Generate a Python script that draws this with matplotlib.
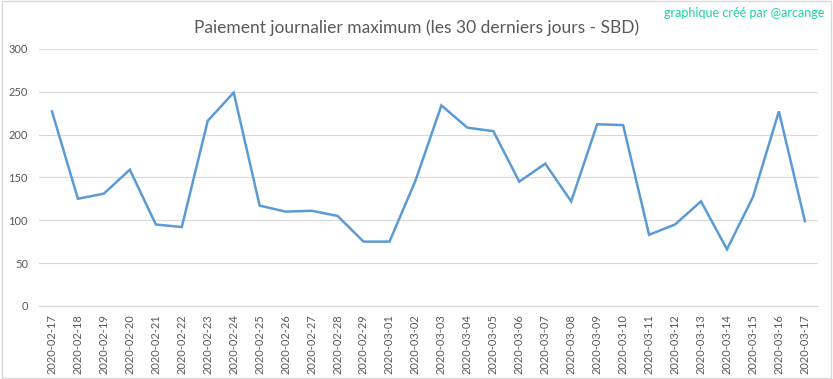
import matplotlib
matplotlib.use('Agg')
from matplotlib import pyplot as plt
from matplotlib.patches import Rectangle

# daily maximum payout, last 30 days (SBD)
dates = ['2020-02-17', '2020-02-18', '2020-02-19', '2020-02-20', '2020-02-21',
         '2020-02-22', '2020-02-23', '2020-02-24', '2020-02-25', '2020-02-26',
         '2020-02-27', '2020-02-28', '2020-02-29', '2020-03-01', '2020-03-02',
         '2020-03-03', '2020-03-04', '2020-03-05', '2020-03-06', '2020-03-07',
         '2020-03-08', '2020-03-09', '2020-03-10', '2020-03-11', '2020-03-12',
         '2020-03-13', '2020-03-14', '2020-03-15', '2020-03-16', '2020-03-17']
max_payout = [227, 125, 131, 159, 95, 92, 216, 249, 117, 110,
              111, 105, 75, 75, 146, 234, 208, 204, 145, 166,
              122, 212, 211, 83, 95, 122, 66, 127, 227, 99]
y_ticks = [0, 50, 100, 150, 200, 250, 300]

plt.rcParams['font.family'] = ['Lato', 'DejaVu Sans']
grey = '#595959'

fig = plt.figure(figsize=(8.33, 3.79), dpi=100)
ax = fig.add_axes([0.0468, 0.193, 0.935, 0.678])

xs = list(range(len(dates)))
ax.plot(xs, max_payout, color='#5B9BD5', linewidth=1.8, solid_joinstyle='miter')

ax.set_xlim(-0.5, len(dates) - 0.5)
ax.set_ylim(0, 300)
ax.set_yticks(y_ticks)
ax.set_xticks(xs)
ax.set_xticklabels(dates, rotation=90)
ax.tick_params(axis='both', length=0, colors=grey, labelsize=8)
ax.tick_params(axis='x', pad=6)
ax.tick_params(axis='y', pad=8)
ax.grid(axis='y', color='#D9D9D9', linewidth=0.8)
ax.set_axisbelow(True)
for side in ['top', 'right', 'left']:
    ax.spines[side].set_visible(False)
ax.spines['bottom'].set_color('#D9D9D9')
ax.spines['bottom'].set_linewidth(0.8)

fig.text(0.5, 0.928, 'Paiement journalier maximum (les 30 derniers jours - SBD)',
         ha='center', va='center', fontsize=12.5, color=grey)
fig.text(0.99, 0.965, 'graphique créé par @arcange', ha='right', va='center',
         fontsize=9, color='#1DD1A1')

# light chart border
fig.patches.append(Rectangle((0.002, 0.003), 0.996, 0.994, transform=fig.transFigure,
                             fill=False, edgecolor='#D9D9D9', linewidth=1))

fig.savefig('out.png', dpi=100)
